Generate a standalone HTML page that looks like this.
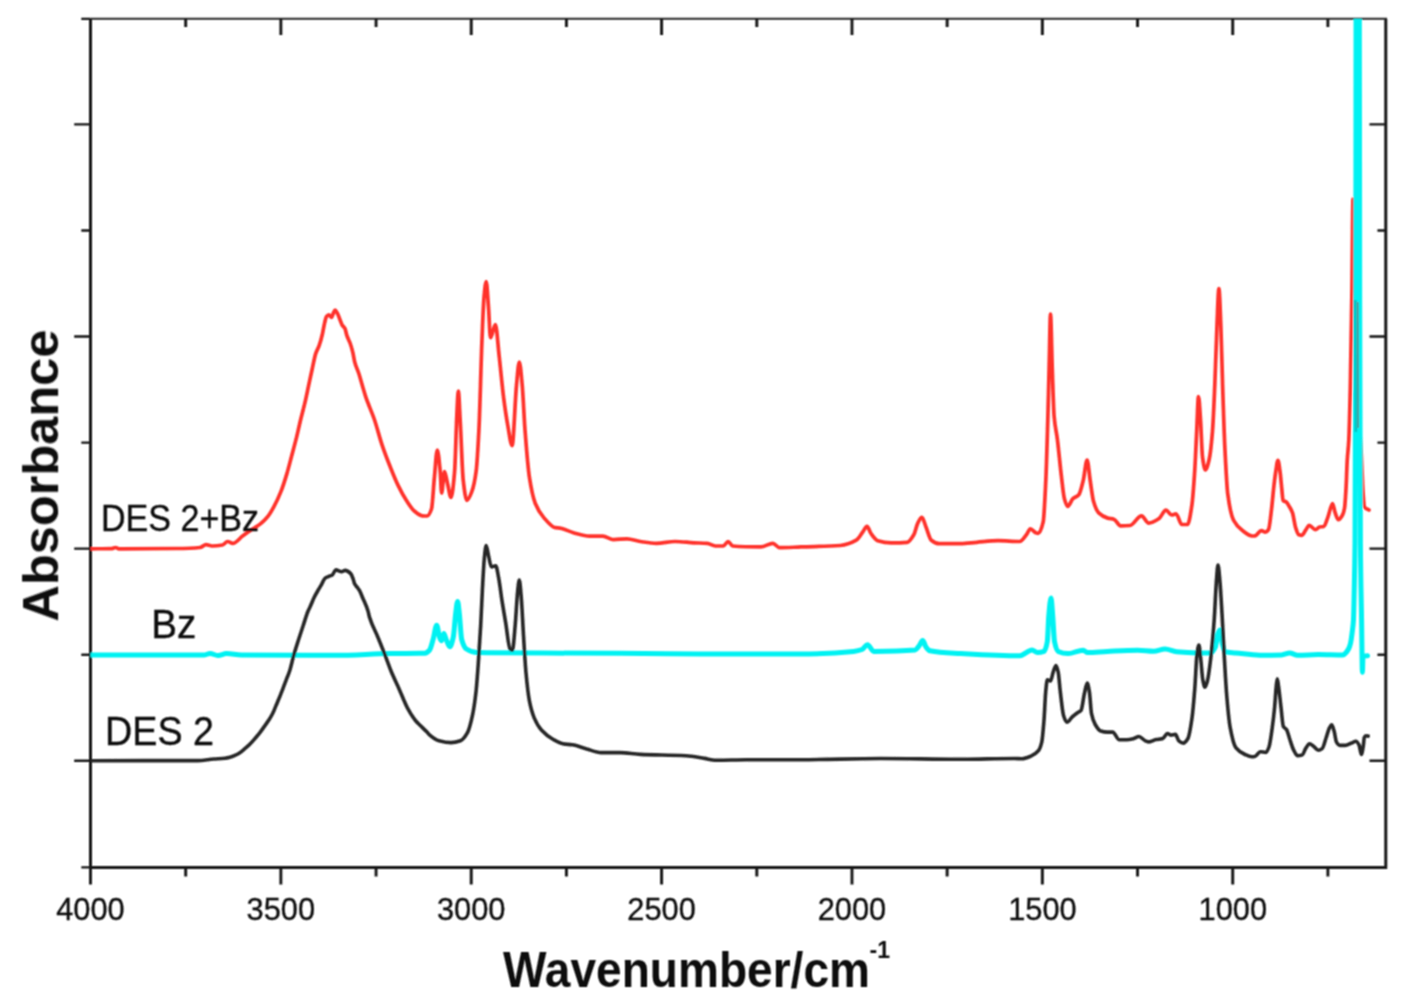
<!DOCTYPE html>
<html><head><meta charset="utf-8"><title>FTIR spectra</title>
<style>
html,body{margin:0;padding:0;background:#fff;}
body{width:1413px;height:1008px;overflow:hidden;font-family:"Liberation Sans",sans-serif;}
svg{display:block;}
</style></head><body>
<svg width="1413" height="1008" viewBox="0 0 1413 1008" font-family="Liberation Sans, sans-serif"><defs><clipPath id="c"><rect x="90.4" y="18.8" width="1295.3" height="848.0"/></clipPath><filter id="bl" x="-5%" y="-5%" width="110%" height="110%"><feConvolveMatrix order="3" kernelMatrix="1 2 1 2 4 2 1 2 1" divisor="16" edgeMode="none"/></filter></defs>
<g filter="url(#bl)">
<path d="M90.5 867.4V18.85M1385.8 18.85V867.4M89.1 867.4H1387.2" stroke="#141414" stroke-width="3.0" fill="none"/>
<path d="M90.5 18.85H1387.0" stroke="#262626" stroke-width="2.0" fill="none"/>
<path d="M81.3 18.85H90.5M74.2 124.37H90.5M1385.8 124.37H1369.5M81.3 230.44H90.5M1385.8 230.44H1377.4M74.2 336.51H90.5M1385.8 336.51H1369.5M81.3 442.58H90.5M1385.8 442.58H1377.4M74.2 548.65H90.5M1385.8 548.65H1369.5M81.3 654.72H90.5M1385.8 654.72H1377.4M74.2 760.79H90.5M1385.8 760.79H1369.5M81.3 867.40H90.5" stroke="#141414" stroke-width="2.4" fill="none"/>
<path d="M90.50 867.4V884.4M185.69 867.4V876.4M185.69 18.9V26.9M280.87 867.4V884.4M280.87 18.9V34.9M376.06 867.4V876.4M376.06 18.9V26.9M471.24 867.4V884.4M471.24 18.9V34.9M566.42 867.4V876.4M566.42 18.9V26.9M661.61 867.4V884.4M661.61 18.9V34.9M756.80 867.4V876.4M756.80 18.9V26.9M851.98 867.4V884.4M851.98 18.9V34.9M947.16 867.4V876.4M947.16 18.9V26.9M1042.35 867.4V884.4M1042.35 18.9V34.9M1137.54 867.4V876.4M1137.54 18.9V26.9M1232.72 867.4V884.4M1232.72 18.9V34.9M1327.90 867.4V876.4M1327.90 18.9V26.9" stroke="#141414" stroke-width="2.9" fill="none"/>
<text x="90.4" y="920.3" text-anchor="middle" font-size="31.5" textLength="68.5" lengthAdjust="spacingAndGlyphs" fill="#111" stroke="#111" stroke-width="0.35">4000</text>
<text x="280.8" y="920.3" text-anchor="middle" font-size="31.5" textLength="68.5" lengthAdjust="spacingAndGlyphs" fill="#111" stroke="#111" stroke-width="0.35">3500</text>
<text x="471.2" y="920.3" text-anchor="middle" font-size="31.5" textLength="68.5" lengthAdjust="spacingAndGlyphs" fill="#111" stroke="#111" stroke-width="0.35">3000</text>
<text x="661.6" y="920.3" text-anchor="middle" font-size="31.5" textLength="68.5" lengthAdjust="spacingAndGlyphs" fill="#111" stroke="#111" stroke-width="0.35">2500</text>
<text x="852.0" y="920.3" text-anchor="middle" font-size="31.5" textLength="68.5" lengthAdjust="spacingAndGlyphs" fill="#111" stroke="#111" stroke-width="0.35">2000</text>
<text x="1042.4" y="920.3" text-anchor="middle" font-size="31.5" textLength="68.5" lengthAdjust="spacingAndGlyphs" fill="#111" stroke="#111" stroke-width="0.35">1500</text>
<text x="1232.8" y="920.3" text-anchor="middle" font-size="31.5" textLength="68.5" lengthAdjust="spacingAndGlyphs" fill="#111" stroke="#111" stroke-width="0.35">1000</text>
<g clip-path="url(#c)" fill="none" stroke-linejoin="round" stroke-linecap="round">
<path d="M90.00 548.80C97.33 548.73 104.67 548.77 112.00 548.60C113.17 548.57 114.33 547.50 115.50 547.50C116.67 547.50 117.83 548.80 119.00 548.80C138.00 548.80 157.00 548.70 176.00 548.50C184.00 548.42 192.00 548.23 200.00 547.50C202.00 547.32 204.00 544.70 206.00 544.70C208.00 544.70 210.00 546.00 212.00 546.00C215.50 546.00 219.00 545.64 222.50 545.00C224.20 544.69 225.90 541.50 227.60 541.50C229.30 541.50 231.00 543.40 232.70 543.40C236.10 543.40 239.50 538.28 242.90 535.80C245.27 534.07 247.63 532.27 250.00 530.70C251.60 529.64 253.20 528.75 254.80 527.70C256.77 526.41 258.73 525.20 260.70 523.60C263.10 521.64 265.50 519.38 267.90 516.40C269.87 513.95 271.83 510.51 273.80 506.90C276.20 502.50 278.60 497.46 281.00 491.40C282.97 486.43 284.93 480.18 286.90 473.60C288.50 468.24 290.10 461.71 291.70 455.70C293.27 449.81 294.83 444.21 296.40 437.90C297.87 431.99 299.33 425.04 300.80 419.00C302.20 413.24 303.60 408.39 305.00 402.40C306.20 397.27 307.40 391.27 308.60 385.70C309.80 380.13 311.00 374.42 312.20 369.00C313.37 363.73 314.53 357.16 315.70 353.60C316.90 349.94 318.10 348.61 319.30 345.20C320.30 342.36 321.30 338.67 322.30 334.50C323.10 331.16 323.90 325.83 324.70 322.60C325.27 320.31 325.83 317.43 326.40 316.70C327.20 315.68 328.00 314.90 328.80 314.90C329.73 314.90 330.67 317.30 331.60 317.30C332.20 317.30 332.80 314.30 333.40 313.10C333.97 311.96 334.53 310.10 335.10 310.10C335.83 310.10 336.57 311.82 337.30 313.10C338.10 314.50 338.90 317.02 339.70 319.00C340.50 320.98 341.30 323.66 342.10 325.00C343.07 326.62 344.03 326.73 345.00 328.60C345.63 329.82 346.27 333.82 346.90 335.70C348.07 339.16 349.23 340.66 350.40 344.00C351.20 346.29 352.00 349.08 352.80 352.40C353.43 355.03 354.07 359.53 354.70 361.90C356.10 367.15 357.50 369.46 358.90 373.80C360.07 377.42 361.23 381.79 362.40 385.70C363.60 389.72 364.80 394.08 366.00 397.60C367.20 401.12 368.40 403.96 369.60 407.10C371.13 411.11 372.67 414.60 374.20 419.00C376.87 426.65 379.53 437.52 382.20 445.40C384.87 453.28 387.53 460.13 390.20 466.80C392.87 473.47 395.53 480.14 398.20 485.60C400.90 491.13 403.60 496.14 406.30 500.30C408.97 504.41 411.63 508.79 414.30 511.00C416.97 513.21 419.63 515.60 422.30 515.80C423.87 515.92 425.43 516.00 427.00 516.00C428.50 516.00 430.00 513.32 431.50 509.00C432.47 506.22 433.43 487.08 434.40 477.30C435.37 467.52 436.33 450.00 437.30 450.00C438.27 450.00 439.23 461.51 440.20 471.60C440.67 476.47 441.13 493.00 441.60 493.00C442.57 493.00 443.53 471.60 444.50 471.60C445.47 471.60 446.43 479.16 447.40 483.00C448.60 487.77 449.80 497.50 451.00 497.50C452.20 497.50 453.40 485.58 454.60 471.60C455.37 462.67 456.13 428.96 456.90 414.00C457.37 404.89 457.83 391.00 458.30 391.00C458.97 391.00 459.63 410.96 460.30 422.60C461.27 439.47 462.23 471.50 463.20 480.00C464.43 490.84 465.67 500.30 466.90 500.30C468.53 500.30 470.17 495.91 471.80 491.70C473.23 488.01 474.67 482.18 476.10 471.60C477.07 464.46 478.03 447.29 479.00 428.00C479.97 408.71 480.93 365.93 481.90 342.00C482.57 325.50 483.23 306.32 483.90 298.80C484.67 290.15 485.43 281.50 486.20 281.50C486.97 281.50 487.73 297.46 488.50 307.40C489.17 316.04 489.83 337.70 490.50 337.70C492.13 337.70 493.77 324.70 495.40 324.70C496.67 324.70 497.93 345.23 499.20 356.40C500.63 369.04 502.07 385.50 503.50 396.70C504.93 407.90 506.37 417.61 507.80 425.50C509.23 433.39 510.67 445.60 512.10 445.60C513.57 445.60 515.03 400.08 516.50 385.20C517.43 375.73 518.37 362.00 519.30 362.00C520.27 362.00 521.23 374.92 522.20 385.20C523.17 395.48 524.13 418.68 525.10 431.20C526.53 449.77 527.97 468.07 529.40 477.30C531.33 489.74 533.27 498.35 535.20 503.20C538.07 510.39 540.93 514.25 543.80 517.60C547.63 522.08 551.47 527.17 555.30 527.70C556.87 527.92 558.43 527.91 560.00 528.10C564.47 528.66 568.93 531.52 573.40 532.70C578.77 534.11 584.13 536.10 589.50 536.10C593.93 536.10 598.37 536.10 602.80 536.10C606.37 536.10 609.93 539.60 613.50 539.60C618.00 539.60 622.50 538.80 627.00 538.80C631.43 538.80 635.87 540.83 640.30 541.50C645.67 542.31 651.03 543.40 656.40 543.40C662.63 543.40 668.87 541.50 675.10 541.50C681.37 541.50 687.63 542.46 693.90 542.80C698.37 543.04 702.83 543.02 707.30 543.40C709.97 543.62 712.63 546.00 715.30 546.00C717.97 546.00 720.63 546.00 723.30 546.00C724.90 546.00 726.50 541.50 728.10 541.50C729.63 541.50 731.17 545.88 732.70 546.00C742.07 546.75 751.43 546.90 760.80 546.90C764.83 546.90 768.87 543.40 772.90 543.40C775.10 543.40 777.30 547.70 779.50 547.70C786.67 547.70 793.83 547.16 801.00 546.90C814.07 546.42 827.13 546.45 840.20 545.50C845.57 545.11 850.93 543.26 856.30 540.20C858.53 538.93 860.77 534.52 863.00 531.60C864.33 529.86 865.67 526.30 867.00 526.30C868.33 526.30 869.67 531.67 871.00 533.50C873.23 536.57 875.47 540.01 877.70 540.70C882.17 542.09 886.63 542.90 891.10 542.90C896.47 542.90 901.83 542.75 907.20 542.30C909.40 542.12 911.60 538.53 913.80 534.80C915.17 532.48 916.53 525.32 917.90 522.80C919.23 520.34 920.57 517.40 921.90 517.40C923.23 517.40 924.57 523.59 925.90 526.80C927.70 531.14 929.50 538.80 931.30 540.20C933.97 542.28 936.63 543.70 939.30 543.70C946.43 543.70 953.57 543.70 960.70 543.70C966.07 543.70 971.43 542.73 976.80 542.30C983.93 541.72 991.07 540.70 998.20 540.70C1005.37 540.70 1012.53 541.50 1019.70 541.50C1021.93 541.50 1024.17 537.51 1026.40 534.80C1027.73 533.18 1029.07 528.90 1030.40 528.90C1032.17 528.90 1033.93 531.93 1035.70 532.70C1036.50 533.05 1037.30 533.50 1038.10 533.50C1039.80 533.50 1041.50 529.26 1043.20 521.90C1044.07 518.15 1044.93 498.95 1045.80 480.60C1046.50 465.77 1047.20 440.59 1047.90 416.10C1048.33 400.94 1048.77 381.48 1049.20 364.50C1049.63 347.52 1050.07 314.20 1050.50 314.20C1051.10 314.20 1051.70 352.85 1052.30 369.70C1052.90 386.55 1053.50 409.06 1054.10 416.10C1055.20 429.02 1056.30 430.62 1057.40 439.40C1058.70 449.78 1060.00 464.78 1061.30 475.50C1062.33 484.02 1063.37 494.97 1064.40 498.70C1065.50 502.67 1066.60 506.50 1067.70 506.50C1069.43 506.50 1071.17 500.30 1072.90 498.70C1074.87 496.88 1076.83 497.03 1078.80 494.80C1080.27 493.14 1081.73 486.50 1083.20 480.60C1084.50 475.37 1085.80 460.00 1087.10 460.00C1088.13 460.00 1089.17 473.93 1090.20 480.60C1091.30 487.70 1092.40 497.55 1093.50 501.30C1095.23 507.21 1096.97 511.22 1098.70 512.90C1101.70 515.81 1104.70 517.23 1107.70 518.10C1109.87 518.73 1112.03 518.68 1114.20 519.40C1116.33 520.11 1118.47 525.80 1120.60 525.80C1123.73 525.80 1126.87 525.69 1130.00 525.50C1133.83 525.27 1137.67 515.90 1141.50 515.90C1143.90 515.90 1146.30 523.10 1148.70 523.10C1152.07 523.10 1155.43 520.98 1158.80 518.80C1161.20 517.25 1163.60 510.10 1166.00 510.10C1167.90 510.10 1169.80 515.00 1171.70 515.00C1173.13 515.00 1174.57 513.90 1176.00 513.90C1177.93 513.90 1179.87 524.50 1181.80 524.50C1183.70 524.50 1185.60 524.50 1187.50 524.50C1188.93 524.50 1190.37 515.21 1191.80 505.80C1192.77 499.45 1193.73 485.98 1194.70 471.30C1195.37 461.18 1196.03 444.20 1196.70 431.10C1197.30 419.31 1197.90 396.50 1198.50 396.50C1199.17 396.50 1199.83 410.08 1200.50 419.60C1201.17 429.12 1201.83 452.02 1202.50 457.00C1203.47 464.22 1204.43 469.90 1205.40 469.90C1206.63 469.90 1207.87 464.92 1209.10 459.80C1210.23 455.09 1211.37 444.93 1212.50 431.10C1213.27 421.75 1214.03 402.79 1214.80 385.00C1215.50 368.76 1216.20 343.37 1216.90 327.50C1217.57 312.38 1218.23 288.70 1218.90 288.70C1219.57 288.70 1220.23 310.94 1220.90 327.50C1221.47 341.58 1222.03 367.71 1222.60 385.00C1223.37 408.39 1224.13 432.71 1224.90 448.30C1225.87 467.96 1226.83 487.03 1227.80 494.30C1229.70 508.58 1231.60 516.54 1233.50 520.20C1236.40 525.79 1239.30 528.07 1242.20 530.30C1245.53 532.87 1248.87 536.00 1252.20 536.00C1253.13 536.00 1254.07 535.91 1255.00 535.80C1257.10 535.55 1259.20 530.60 1261.30 530.60C1262.67 530.60 1264.03 532.20 1265.40 532.20C1266.43 532.20 1267.47 531.14 1268.50 529.60C1269.57 528.01 1270.63 516.44 1271.70 507.70C1272.40 501.96 1273.10 493.00 1273.80 486.90C1274.47 481.09 1275.13 475.48 1275.80 471.30C1276.50 466.91 1277.20 460.30 1277.90 460.30C1278.60 460.30 1279.30 466.46 1280.00 471.30C1280.53 474.98 1281.07 481.91 1281.60 486.90C1282.10 491.58 1282.60 499.87 1283.10 500.40C1284.17 501.53 1285.23 501.20 1286.30 502.00C1287.33 502.78 1288.37 504.92 1289.40 506.70C1290.43 508.48 1291.47 510.00 1292.50 512.90C1293.53 515.80 1294.57 524.32 1295.60 527.50C1296.67 530.78 1297.73 534.48 1298.80 534.80C1299.83 535.11 1300.87 535.30 1301.90 535.30C1303.27 535.30 1304.63 531.44 1306.00 529.60C1307.07 528.16 1308.13 525.40 1309.20 525.40C1311.27 525.40 1313.33 529.60 1315.40 529.60C1316.80 529.60 1318.20 527.28 1319.60 527.00C1321.00 526.72 1322.40 526.82 1323.80 526.50C1325.17 526.19 1326.53 520.59 1327.90 517.10C1329.47 513.10 1331.03 503.50 1332.60 503.50C1333.47 503.50 1334.33 510.52 1335.20 512.90C1336.23 515.74 1337.27 519.70 1338.30 519.70C1339.70 519.70 1341.10 517.51 1342.50 515.00C1343.20 513.74 1343.90 511.73 1344.60 507.70C1345.10 504.82 1345.60 495.77 1346.10 486.90C1346.47 480.39 1346.83 467.07 1347.20 460.80C1347.73 451.68 1348.27 450.16 1348.80 440.00C1349.30 430.47 1349.80 409.40 1350.30 387.50C1350.83 364.14 1351.37 330.87 1351.90 293.20C1352.27 267.30 1352.63 199.00 1353.00 199.00C1353.63 199.00 1354.27 233.34 1354.90 255.50C1355.77 285.83 1356.63 339.34 1357.50 368.70C1358.17 391.28 1358.83 411.13 1359.50 425.00C1360.17 438.87 1360.83 445.17 1361.50 458.00C1362.00 467.62 1362.50 485.06 1363.00 492.00C1363.50 498.94 1364.00 506.27 1364.50 507.00C1366.00 509.20 1367.50 509.00 1369.00 510.00" stroke="#ff302a" stroke-width="3.7"/>
<path d="M90.00 655.00C128.00 655.00 166.00 655.00 204.00 655.00C206.00 655.00 208.00 653.50 210.00 653.50C212.67 653.50 215.33 655.50 218.00 655.50C220.80 655.50 223.60 653.60 226.40 653.60C231.37 653.60 236.33 654.85 241.30 654.90C272.60 655.23 303.90 655.30 335.20 655.30C353.70 655.30 372.20 653.87 390.70 653.60C400.47 653.46 410.23 653.44 420.00 653.30C421.63 653.28 423.27 653.27 424.90 653.20C426.43 653.14 427.97 651.88 429.50 650.20C430.70 648.88 431.90 643.58 433.10 639.50C434.30 635.42 435.50 625.20 436.70 625.20C437.63 625.20 438.57 634.71 439.50 637.10C440.13 638.72 440.77 640.70 441.40 640.70C442.20 640.70 443.00 633.60 443.80 633.60C444.60 633.60 445.40 637.72 446.20 639.50C447.40 642.16 448.60 646.70 449.80 646.70C450.97 646.70 452.13 642.30 453.30 637.10C454.10 633.54 454.90 619.39 455.70 613.30C456.33 608.48 456.97 601.40 457.60 601.40C458.17 601.40 458.73 608.53 459.30 613.30C460.10 620.04 460.90 636.55 461.70 639.50C463.27 645.27 464.83 648.00 466.40 649.00C469.97 651.27 473.53 652.55 477.10 652.60C524.73 653.24 572.37 652.99 620.00 653.30C646.67 653.47 673.33 654.00 700.00 654.00C733.33 654.00 766.67 654.00 800.00 654.00C817.87 654.00 835.73 653.09 853.60 651.40C856.40 651.13 859.20 650.55 862.00 649.50C863.83 648.81 865.67 644.70 867.50 644.70C869.57 644.70 871.63 651.40 873.70 651.40C887.53 651.40 901.37 651.22 915.20 650.00C916.47 649.89 917.73 647.55 919.00 646.00C920.23 644.49 921.47 640.60 922.70 640.60C923.80 640.60 924.90 645.56 926.00 647.00C927.30 648.70 928.60 650.53 929.90 650.80C940.17 652.91 950.43 652.92 960.70 653.50C980.47 654.61 1000.23 655.80 1020.00 655.80C1022.17 655.80 1024.33 653.56 1026.50 652.50C1028.33 651.60 1030.17 649.90 1032.00 649.90C1033.80 649.90 1035.60 652.50 1037.40 652.50C1039.60 652.50 1041.80 652.17 1044.00 651.40C1045.10 651.01 1046.20 647.73 1047.30 641.60C1047.80 638.81 1048.30 620.98 1048.80 615.40C1049.53 607.22 1050.27 598.00 1051.00 598.00C1051.57 598.00 1052.13 608.60 1052.70 615.40C1053.30 622.60 1053.90 638.68 1054.50 641.60C1055.73 647.61 1056.97 650.82 1058.20 651.40C1061.47 652.95 1064.73 653.60 1068.00 653.60C1073.07 653.60 1078.13 650.30 1083.20 650.30C1084.67 650.30 1086.13 652.50 1087.60 652.50C1094.13 652.50 1100.67 651.69 1107.20 651.40C1117.40 650.95 1127.60 650.30 1137.80 650.30C1143.10 650.30 1148.40 651.30 1153.70 651.30C1157.50 651.30 1161.30 649.10 1165.10 649.10C1168.90 649.10 1172.70 651.45 1176.50 651.80C1183.33 652.44 1190.17 652.90 1197.00 652.90C1201.57 652.90 1206.13 652.90 1210.70 652.90C1212.23 652.90 1213.77 650.42 1215.30 647.20C1216.20 645.31 1217.10 635.82 1218.00 633.50C1218.63 631.87 1219.27 630.10 1219.90 630.10C1220.63 630.10 1221.37 639.63 1222.10 642.70C1223.03 646.61 1223.97 651.58 1224.90 651.80C1228.53 652.67 1232.17 652.54 1235.80 652.90C1243.87 653.69 1251.93 655.20 1260.00 655.20C1267.23 655.20 1274.47 655.12 1281.70 654.90C1284.37 654.82 1287.03 653.00 1289.70 653.00C1292.33 653.00 1294.97 655.20 1297.60 655.20C1304.50 655.20 1311.40 654.60 1318.30 654.60C1326.53 654.60 1334.77 655.00 1343.00 655.00C1343.90 655.00 1344.80 653.80 1345.70 652.90C1346.63 651.97 1347.57 650.78 1348.50 649.00C1349.17 647.73 1349.83 645.97 1350.50 643.30C1351.10 640.89 1351.70 636.22 1352.30 631.40C1352.70 628.18 1353.10 626.30 1353.50 619.50C1353.70 616.10 1353.90 605.03 1354.10 595.70C1354.40 581.71 1354.70 572.96 1355.00 543.20C1355.27 516.75 1355.53 435.28 1355.80 300.00C1355.90 249.27 1356.00 0.00 1356.10 0.00C1357.17 0.00 1358.23 0.00 1359.30 0.00C1359.43 0.00 1359.57 234.53 1359.70 300.00C1359.93 414.57 1360.17 515.93 1360.40 543.00C1360.80 589.40 1361.20 594.74 1361.60 620.60C1361.87 637.84 1362.13 672.30 1362.40 672.30C1362.60 672.30 1362.80 656.59 1363.00 656.50C1364.50 655.79 1366.00 655.97 1367.50 655.70" stroke="#00f2f2" stroke-width="5.0"/>
<path d="M1355.4 300L1355.9 432" stroke="#00c4c4" stroke-width="2.6" stroke-linecap="butt"/>
<path d="M1357.7 302L1358.2 428" stroke="#4f8a8a" stroke-width="1.5" stroke-linecap="butt"/>
<path d="M90.00 760.70C125.93 760.67 161.87 760.69 197.80 760.60C203.10 760.59 208.40 759.44 213.70 759.00C217.47 758.69 221.23 758.62 225.00 758.20C226.67 758.01 228.33 757.63 230.00 757.20C231.63 756.78 233.27 756.11 234.90 755.40C236.57 754.67 238.23 753.78 239.90 752.70C241.53 751.64 243.17 750.08 244.80 748.70C246.47 747.29 248.13 745.93 249.80 744.30C251.47 742.67 253.13 740.72 254.80 738.80C256.43 736.92 258.07 735.01 259.70 732.90C261.37 730.74 263.03 728.25 264.70 725.90C265.97 724.11 267.23 722.44 268.50 720.50C269.80 718.51 271.10 716.53 272.40 714.00C273.53 711.79 274.67 708.76 275.80 706.10C276.97 703.36 278.13 700.68 279.30 697.80C280.47 694.92 281.63 691.82 282.80 688.80C283.97 685.78 285.13 682.76 286.30 679.70C287.43 676.73 288.57 674.23 289.70 670.70C291.07 666.45 292.43 659.80 293.80 655.00C295.40 649.38 297.00 644.51 298.60 639.50C300.17 634.59 301.73 629.90 303.30 625.20C304.90 620.40 306.50 614.78 308.10 611.00C308.73 609.50 309.37 608.48 310.00 607.10C311.33 604.20 312.67 600.44 314.00 597.70C315.47 594.69 316.93 592.26 318.40 589.70C319.57 587.66 320.73 585.85 321.90 583.80C322.90 582.04 323.90 579.09 324.90 578.30C326.20 577.27 327.50 576.99 328.80 576.40C329.97 575.87 331.13 575.67 332.30 574.90C333.47 574.13 334.63 569.90 335.80 569.90C337.77 569.90 339.73 571.70 341.70 571.70C342.87 571.70 344.03 570.40 345.20 570.40C347.03 570.40 348.87 571.78 350.70 573.60C351.50 574.39 352.30 576.66 353.10 578.80C353.60 580.13 354.10 582.80 354.60 583.80C355.60 585.80 356.60 586.41 357.60 587.80C358.27 588.73 358.93 589.53 359.60 590.70C360.60 592.46 361.60 595.31 362.60 597.70C364.40 602.00 366.20 605.10 368.00 611.00C368.47 612.53 368.93 615.38 369.40 616.90C372.23 626.15 375.07 630.27 377.90 637.20C380.03 642.42 382.17 647.71 384.30 653.20C386.43 658.69 388.57 665.00 390.70 670.20C393.57 677.18 396.43 682.96 399.30 689.40C402.13 695.76 404.97 703.46 407.80 708.60C410.63 713.74 413.47 718.17 416.30 721.50C417.53 722.95 418.77 723.97 420.00 725.20C422.33 727.52 424.67 729.68 427.00 732.10C427.83 732.97 428.67 734.11 429.50 734.80C432.67 737.44 435.83 739.88 439.00 740.70C443.00 741.73 447.00 742.60 451.00 742.60C454.17 742.60 457.33 741.82 460.50 740.70C462.87 739.86 465.23 736.68 467.60 732.40C469.20 729.51 470.80 723.10 472.40 715.70C473.60 710.15 474.80 702.50 476.00 691.90C476.77 685.13 477.53 673.98 478.30 663.30C479.10 652.15 479.90 639.78 480.70 625.20C481.27 614.87 481.83 599.91 482.40 589.50C483.03 577.86 483.67 564.73 484.30 558.60C484.93 552.47 485.57 545.50 486.20 545.50C487.00 545.50 487.80 552.90 488.60 556.20C489.53 560.05 490.47 566.90 491.40 566.90C492.83 566.90 494.27 565.70 495.70 565.70C496.67 565.70 497.63 572.69 498.60 577.60C499.77 583.53 500.93 593.98 502.10 601.40C503.30 609.03 504.50 615.68 505.70 622.90C507.13 631.53 508.57 647.77 510.00 649.00C510.80 649.68 511.60 650.20 512.40 650.20C513.33 650.20 514.27 635.40 515.20 625.20C516.00 616.46 516.80 599.21 517.60 591.90C518.17 586.72 518.73 580.00 519.30 580.00C519.93 580.00 520.57 589.47 521.20 596.70C522.00 605.83 522.80 624.45 523.60 637.10C524.40 649.75 525.20 664.32 526.00 672.90C527.17 685.42 528.33 695.59 529.50 701.40C531.10 709.37 532.70 714.40 534.30 718.10C536.67 723.58 539.03 727.36 541.40 730.00C545.37 734.42 549.33 737.25 553.30 739.50C556.50 741.32 559.70 743.26 562.90 743.80C566.07 744.34 569.23 744.32 572.40 744.80C577.17 745.52 581.93 747.71 586.70 749.00C591.47 750.29 596.23 752.60 601.00 752.60C607.33 752.60 613.67 752.60 620.00 752.60C626.77 752.60 633.53 754.09 640.30 754.40C655.47 755.10 670.63 754.90 685.80 755.70C692.07 756.03 698.33 757.42 704.60 758.40C708.17 758.96 711.73 760.20 715.30 760.20C726.00 760.20 736.70 759.70 747.40 759.70C765.27 759.70 783.13 759.70 801.00 759.70C827.47 759.70 853.93 758.50 880.40 758.50C907.17 758.50 933.93 759.30 960.70 759.30C978.57 759.30 996.43 758.50 1014.30 758.50C1016.87 758.50 1019.43 758.80 1022.00 758.80C1024.97 758.80 1027.93 757.37 1030.90 756.10C1033.43 755.01 1035.97 753.78 1038.50 750.70C1039.60 749.36 1040.70 746.71 1041.80 741.90C1042.53 738.70 1043.27 729.31 1044.00 720.10C1044.57 712.98 1045.13 697.64 1045.70 691.80C1046.23 686.31 1046.77 679.80 1047.30 679.80C1048.37 679.80 1049.43 680.90 1050.50 680.90C1051.40 680.90 1052.30 674.54 1053.20 672.10C1054.13 669.57 1055.07 665.60 1056.00 665.60C1056.73 665.60 1057.47 668.79 1058.20 672.10C1058.90 675.26 1059.60 686.01 1060.30 691.80C1061.40 700.90 1062.50 712.39 1063.60 715.80C1064.70 719.21 1065.80 722.30 1066.90 722.30C1068.70 722.30 1070.50 718.39 1072.30 716.80C1074.13 715.18 1075.97 713.81 1077.80 712.50C1078.90 711.71 1080.00 711.60 1081.10 710.30C1082.17 709.04 1083.23 698.63 1084.30 694.00C1085.27 689.81 1086.23 683.00 1087.20 683.00C1087.93 683.00 1088.67 687.55 1089.40 691.80C1090.10 695.86 1090.80 710.21 1091.50 713.60C1092.73 719.57 1093.97 722.36 1095.20 724.50C1097.03 727.68 1098.87 730.45 1100.70 731.00C1102.87 731.66 1105.03 732.10 1107.20 732.10C1109.03 732.10 1110.87 732.10 1112.70 732.10C1114.87 732.10 1117.03 739.70 1119.20 739.70C1121.77 739.70 1124.33 739.70 1126.90 739.70C1129.07 739.70 1131.23 739.19 1133.40 738.70C1135.23 738.29 1137.07 736.50 1138.90 736.50C1141.07 736.50 1143.23 739.94 1145.40 740.80C1146.63 741.29 1147.87 741.90 1149.10 741.90C1151.40 741.90 1153.70 740.10 1156.00 739.60C1158.27 739.11 1160.53 739.17 1162.80 738.50C1164.33 738.05 1165.87 733.50 1167.40 733.50C1168.53 733.50 1169.67 735.10 1170.80 735.10C1172.33 735.10 1173.87 734.40 1175.40 734.40C1176.53 734.40 1177.67 739.86 1178.80 740.80C1180.30 742.04 1181.80 743.10 1183.30 743.10C1184.83 743.10 1186.37 741.09 1187.90 738.50C1189.27 736.19 1190.63 727.50 1192.00 718.00C1192.93 711.51 1193.87 700.16 1194.80 688.30C1195.53 678.98 1196.27 659.40 1197.00 654.10C1197.63 649.52 1198.27 645.00 1198.90 645.00C1199.50 645.00 1200.10 653.38 1200.70 658.60C1201.37 664.40 1202.03 675.69 1202.70 679.20C1203.47 683.23 1204.23 687.20 1205.00 687.20C1205.77 687.20 1206.53 684.20 1207.30 681.50C1208.43 677.51 1209.57 668.08 1210.70 658.60C1211.87 648.84 1213.03 636.04 1214.20 619.90C1214.93 609.76 1215.67 590.33 1216.40 581.10C1216.93 574.39 1217.47 565.10 1218.00 565.10C1218.63 565.10 1219.27 574.23 1219.90 581.10C1220.63 589.05 1221.37 602.82 1222.10 615.30C1222.87 628.35 1223.63 645.40 1224.40 658.60C1225.17 671.80 1225.93 685.89 1226.70 695.10C1227.83 708.72 1228.97 720.97 1230.10 727.10C1232.00 737.38 1233.90 745.11 1235.80 747.60C1238.87 751.61 1241.93 753.14 1245.00 754.50C1247.27 755.50 1249.53 756.70 1251.80 756.70C1252.80 756.70 1253.80 756.61 1254.80 756.50C1256.63 756.29 1258.47 751.70 1260.30 751.70C1262.17 751.70 1264.03 752.50 1265.90 752.50C1266.93 752.50 1267.97 749.82 1269.00 747.00C1270.07 744.09 1271.13 735.57 1272.20 728.00C1273.00 722.32 1273.80 715.67 1274.60 707.30C1275.13 701.72 1275.67 691.57 1276.20 686.70C1276.57 683.35 1276.93 678.70 1277.30 678.70C1277.73 678.70 1278.17 683.64 1278.60 686.70C1279.40 692.34 1280.20 700.57 1281.00 707.30C1281.77 713.75 1282.53 724.87 1283.30 726.30C1284.37 728.29 1285.43 727.90 1286.50 729.50C1287.57 731.10 1288.63 735.92 1289.70 739.00C1291.03 742.85 1292.37 747.70 1293.70 750.20C1295.00 752.64 1296.30 755.70 1297.60 755.70C1299.20 755.70 1300.80 755.42 1302.40 754.90C1303.47 754.55 1304.53 750.23 1305.60 748.60C1306.90 746.62 1308.20 743.80 1309.50 743.80C1310.83 743.80 1312.17 745.27 1313.50 746.20C1315.10 747.31 1316.70 750.20 1318.30 750.20C1319.60 750.20 1320.90 749.53 1322.20 748.60C1323.53 747.65 1324.87 741.35 1326.20 737.50C1327.27 734.42 1328.33 729.84 1329.40 727.90C1330.17 726.50 1330.93 724.80 1331.70 724.80C1332.50 724.80 1333.30 728.42 1334.10 731.10C1334.90 733.78 1335.70 740.84 1336.50 742.20C1337.57 744.01 1338.63 745.40 1339.70 745.40C1341.53 745.40 1343.37 745.40 1345.20 745.40C1347.33 745.40 1349.47 743.82 1351.60 743.00C1353.03 742.45 1354.47 741.30 1355.90 741.30C1356.97 741.30 1358.03 743.08 1359.10 745.10C1359.87 746.55 1360.63 754.50 1361.40 754.50C1362.07 754.50 1362.73 749.30 1363.40 745.10C1363.70 743.21 1364.00 737.91 1364.30 737.40C1364.93 736.32 1365.57 735.80 1366.20 735.80C1366.87 735.80 1367.53 736.00 1368.20 736.10" stroke="#262626" stroke-width="3.6"/>
</g>
<text x="101" y="530.7" font-size="37" textLength="158" lengthAdjust="spacingAndGlyphs" fill="#111" stroke="#111" stroke-width="0.4">DES 2+Bz</text>
<text x="151.2" y="637.8" font-size="40.5" textLength="45" lengthAdjust="spacingAndGlyphs" fill="#111" stroke="#111" stroke-width="0.4">Bz</text>
<text x="105" y="745" font-size="40.7" textLength="109" lengthAdjust="spacingAndGlyphs" fill="#111" stroke="#111" stroke-width="0.4">DES 2</text>
<text transform="translate(58.1,621.6) rotate(-90)" x="0" y="0" font-size="49.5" font-weight="bold" textLength="292" lengthAdjust="spacingAndGlyphs" fill="#111">Absorbance</text>
<text x="503" y="986.6" font-size="49.5" font-weight="bold" textLength="367" lengthAdjust="spacingAndGlyphs" fill="#111">Wavenumber/cm</text>
<text x="869.5" y="957.6" font-size="23" font-weight="bold" fill="#111">-1</text>
</g></svg>
</body></html>
